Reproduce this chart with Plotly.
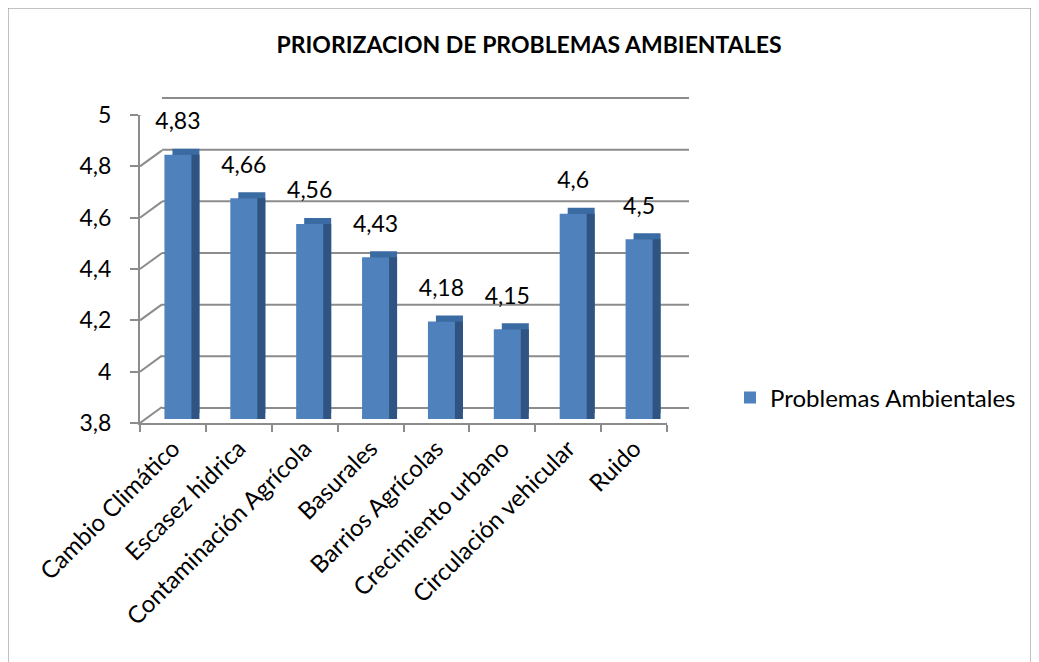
import plotly.graph_objects as go

categories = [
    "Cambio Climático",
    "Escasez hidrica",
    "Contaminación Agrícola",
    "Basurales",
    "Barrios Agrícolas",
    "Crecimiento urbano",
    "Circulación vehicular",
    "Ruido",
]
values = [4.83, 4.66, 4.56, 4.43, 4.18, 4.15, 4.6, 4.5]
value_labels = ["4,83", "4,66", "4,56", "4,43", "4,18", "4,15", "4,6", "4,5"]
y_ticks = [3.8, 4.0, 4.2, 4.4, 4.6, 4.8, 5.0]
y_tick_text = ["3,8", "4", "4,2", "4,4", "4,6", "4,8", "5"]
series_name = "Problemas Ambientales"

FONT = "Lato, 'Noto Sans', sans-serif"
FRONT = "#4F81BD"
TOP = "#3B6BA3"
SIDE = "#2F5481"
GRID = "#8C8C8C"
Y_RANGE = [3.8, 5.0]
X_RANGE = [-0.5, 7.5]

# page has an 8px body margin; plot area is 549 x 328 px
FIG_W, FIG_H = 1031, 654
ML, MR, MT, MB = 132, 350, 87, 239
W, H = FIG_W - ML - MR, FIG_H - MT - MB
DEPTH_X, DEPTH_Y = 22, 16
FRONT_W, FRONT_H = W - DEPTH_X, 308
BACK_H = 310
BAR_DX, BAR_DY = 5, 4
FACE_DX, FACE_DY = 8, 6

# back wall range padded so edge gridlines are not clipped
PAD = 0.01
PAD_PX = PAD * BACK_H / (Y_RANGE[1] - Y_RANGE[0])


def dom(lo, hi, total):
    return [lo / total, hi / total]


fig = go.Figure()

# back wall (grid drawn as shapes below)
fig.add_trace(go.Bar(
    x=categories, y=[None] * len(categories), xaxis="x", yaxis="y",
    showlegend=False, hoverinfo="skip",
))
# top faces of the 3D bars
fig.add_trace(go.Bar(
    x=categories, y=values, xaxis="x2", yaxis="y2",
    marker=dict(color=TOP, line=dict(width=0)),
    width=0.41, showlegend=False, hoverinfo="skip",
))
# side faces
fig.add_trace(go.Bar(
    x=categories, y=values, xaxis="x3", yaxis="y3",
    marker=dict(color=SIDE, line=dict(width=0)),
    width=0.41, showlegend=False, hoverinfo="skip",
))
# front faces
fig.add_trace(go.Bar(
    x=categories, y=values, xaxis="x4", yaxis="y4",
    name=series_name,
    marker=dict(color=FRONT, line=dict(width=0)),
    width=0.41,
))
# value labels (invisible marker size pushes text up)
fig.add_trace(go.Scatter(
    x=categories, y=values, xaxis="x4", yaxis="y4",
    mode="markers+text", text=value_labels, textposition="top center",
    marker=dict(size=30, opacity=0), cliponaxis=False,
    textfont=dict(family=FONT, size=23, color="black"),
    showlegend=False, hoverinfo="skip",
))
# front axes with labels
fig.add_trace(go.Bar(
    x=categories, y=[None] * len(categories), xaxis="x5", yaxis="y5",
    showlegend=False, hoverinfo="skip",
))

hidden_x = dict(range=X_RANGE, showticklabels=False, showgrid=False,
                zeroline=False, ticks="", showline=False, type="category")
hidden_y = dict(range=Y_RANGE, showticklabels=False, showgrid=False,
                zeroline=False, ticks="", showline=False)

shapes = []
for v in y_ticks:
    # back wall gridline
    shapes.append(dict(
        type="line", xref="x domain", yref="y",
        x0=0, x1=1, y0=v, y1=v,
        line=dict(color=GRID, width=2), layer="below",
    ))
    # side wall diagonal from the front tick to the back wall
    shapes.append(dict(
        type="line", xref="x5", yref="y5",
        xsizemode="pixel", ysizemode="pixel",
        xanchor=-0.5, yanchor=v,
        x0=0, y0=0, x1=DEPTH_X, y1=DEPTH_Y,
        line=dict(color=GRID, width=2), layer="below",
    ))
# right floor edge
shapes.append(dict(
    type="line", xref="x5", yref="y5",
    xsizemode="pixel", ysizemode="pixel",
    xanchor=7.5, yanchor=3.8,
    x0=0, y0=0, x1=DEPTH_X, y1=DEPTH_Y,
    line=dict(color=GRID, width=2), layer="below",
))
# chart border
shapes.append(dict(
    type="rect", xref="paper", yref="paper",
    x0=(0 - ML) / W, x1=(1023 - ML) / W,
    y0=-1.0, y1=(H + MT) / H,
    line=dict(color="#868686", width=1), fillcolor="rgba(0,0,0,0)",
    layer="below",
))


def layer_axes(dx, dy):
    return (
        dict(hidden_x, domain=dom(dx, FRONT_W + dx, W)),
        dict(hidden_y, domain=dom(dy, FRONT_H + dy, H)),
    )


x2, y2 = layer_axes(BAR_DX + FACE_DX, BAR_DY + FACE_DY)
x3, y3 = layer_axes(BAR_DX + FACE_DX, BAR_DY)
x4, y4 = layer_axes(BAR_DX, BAR_DY)

fig.update_layout(
    width=FIG_W, height=FIG_H,
    margin=dict(l=ML, r=MR, t=MT, b=MB),
    paper_bgcolor="white", plot_bgcolor="rgba(0,0,0,0)",
    font=dict(family=FONT, size=23, color="black"),
    title=dict(
        text="<b>PRIORIZACION DE PROBLEMAS AMBIENTALES</b>",
        x=521 / FIG_W, xref="container", xanchor="center",
        y=1 - 37 / FIG_H, yref="container", yanchor="middle",
        font=dict(family=FONT, size=23, color="black"),
    ),
    barmode="overlay",
    # back wall
    xaxis=dict(hidden_x, domain=dom(DEPTH_X, W, W), anchor="y"),
    yaxis=dict(hidden_y, range=[Y_RANGE[0] - PAD, Y_RANGE[1] + PAD],
               domain=dom(15 - PAD_PX, 15 + BACK_H + PAD_PX, H), anchor="x"),
    xaxis2=dict(x2, anchor="y2"), yaxis2=dict(y2, anchor="x2"),
    xaxis3=dict(x3, anchor="y3"), yaxis3=dict(y3, anchor="x3"),
    xaxis4=dict(x4, anchor="y4"), yaxis4=dict(y4, anchor="x4"),
    # front axes with labels
    xaxis5=dict(
        range=X_RANGE, type="category", domain=dom(0, FRONT_W, W), anchor="y5",
        showgrid=False, zeroline=False, showline=True, linecolor=GRID, linewidth=2,
        ticks="outside", ticklen=7, tickcolor=GRID, tickwidth=2,
        tickson="boundaries", tickangle=-45,
        tickfont=dict(family=FONT, size=24, color="black"),
    ),
    yaxis5=dict(
        range=Y_RANGE, domain=dom(0, FRONT_H, H), anchor="x5",
        tickmode="array", tickvals=y_ticks, ticktext=y_tick_text,
        showgrid=False, zeroline=False, showline=True, linecolor=GRID, linewidth=2,
        ticks="outside", ticklen=8, tickcolor=GRID, tickwidth=2,
        ticklabelstandoff=14,
        tickfont=dict(family=FONT, size=23, color="black"),
    ),
    showlegend=True,
    legend=dict(
        x=(730 - 140) / W, y=(423 - 398) / H, xanchor="left", yanchor="middle",
        font=dict(family=FONT, size=24, color="black"),
        bgcolor="rgba(0,0,0,0)", itemwidth=30,
    ),
    shapes=shapes,
)

fig.write_html("out.html")
